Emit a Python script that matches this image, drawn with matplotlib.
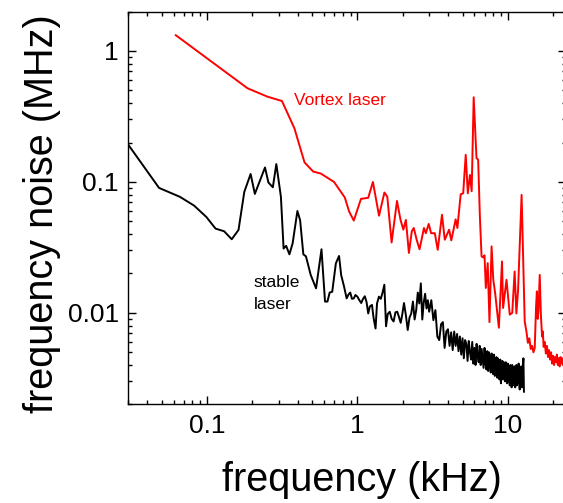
import numpy as np
import matplotlib
matplotlib.use("Agg")
import matplotlib.pyplot as plt
from matplotlib.ticker import LogLocator, NullFormatter

plt.rcParams["font.family"] = ["Liberation Sans", "DejaVu Sans"]

# ── data (frequency in kHz, noise in MHz) ────────────────────────────────────
vortex_f = [0.062, 0.186, 0.252, 0.315, 0.381, 0.445, 0.508, 0.570, 0.699, 0.825,
            0.881, 0.946, 1.056, 1.180, 1.268, 1.392, 1.512, 1.58, 1.688, 1.833,
            1.935, 2.02, 2.10, 2.20, 2.30, 2.37, 2.48, 2.59, 2.77, 2.85,
            2.98, 3.09, 3.27, 3.42, 3.65, 3.81, 4.07, 4.21, 4.50, 4.62,
            4.86, 5.05, 5.25, 5.42, 5.60, 5.75, 5.93, 6.19, 6.35, 6.52,
            6.69, 6.85, 7.00, 7.14, 7.35, 7.55, 7.80, 8.00, 8.24, 8.72,
            9.15, 9.30, 9.80, 10.3, 10.7, 11.1, 11.4, 11.7, 12.35, 12.95,
            13.3, 13.6, 13.9, 14.2, 14.5, 14.8, 15.1, 15.4, 15.6, 15.8,
            16.0, 16.3, 16.6, 16.9, 17.1, 17.3, 17.6, 17.9, 18.2, 18.5,
            18.8, 19.1, 19.4, 19.7, 20.0, 20.3, 20.6, 20.9, 21.2, 21.5,
            21.8, 22.1, 22.4, 22.7, 23.0, 23.3, 23.6, 24.0]
vortex_n = [1.32, 0.519, 0.448, 0.415, 0.257, 0.141, 0.120, 0.116, 0.100, 0.076,
            0.0594, 0.0507, 0.0742, 0.0757, 0.100, 0.0552, 0.0830, 0.077, 0.0345, 0.0716,
            0.0513, 0.0432, 0.0513, 0.0287, 0.0420, 0.0445, 0.036, 0.0306, 0.0445, 0.0406,
            0.0478, 0.0406, 0.0406, 0.0303, 0.0561, 0.0362, 0.0432, 0.0358, 0.0518, 0.0445,
            0.0805, 0.082, 0.161, 0.0819, 0.113, 0.085, 0.443, 0.152, 0.148, 0.0544,
            0.0270, 0.0265, 0.0275, 0.0155, 0.024, 0.0085, 0.0322, 0.018, 0.0141, 0.0077,
            0.0247, 0.0109, 0.0179, 0.0097, 0.0100, 0.0207, 0.0099, 0.0150, 0.0796, 0.0086,
            0.0072, 0.0059, 0.0064, 0.0053, 0.0056, 0.0050, 0.0054, 0.0110, 0.0146, 0.0090,
            0.0105, 0.0195, 0.0095, 0.0066, 0.0072, 0.0055, 0.0060, 0.0049, 0.0056, 0.0046,
            0.0052, 0.0044, 0.0050, 0.0041, 0.0047, 0.0040, 0.0046, 0.0042, 0.0048, 0.0040,
            0.0045, 0.0039, 0.0046, 0.0041, 0.0045, 0.0040, 0.0044, 0.0041]

stable_f = [0.030, 0.048, 0.066, 0.082, 0.099, 0.114, 0.130, 0.146, 0.162, 0.177,
            0.195, 0.208, 0.243, 0.256, 0.274, 0.289, 0.310, 0.323, 0.336, 0.353,
            0.371, 0.399, 0.416, 0.437, 0.455, 0.489, 0.531, 0.577, 0.609, 0.632,
            0.654, 0.680, 0.719, 0.755, 0.780, 0.815, 0.848, 0.872, 0.896, 0.920,
            0.946, 0.970,
            1.00, 1.03, 1.06, 1.09, 1.12, 1.15, 1.18, 1.21, 1.25, 1.28,
            1.32, 1.35, 1.39, 1.43, 1.47, 1.51, 1.55, 1.59, 1.64, 1.69,
            1.74, 1.79, 1.84, 1.89, 1.94, 1.99, 2.04, 2.10, 2.16, 2.22,
            2.28, 2.34, 2.40, 2.46, 2.52, 2.58, 2.64, 2.70, 2.76, 2.82,
            2.88, 2.94, 3.00,
            3.1, 3.2, 3.3, 3.4, 3.5, 3.6, 3.7, 3.8, 3.9, 4.0,
            4.1, 4.2, 4.3, 4.4, 4.5, 4.6, 4.7, 4.8, 4.9, 5.0,
            5.1, 5.2, 5.3, 5.4, 5.5, 5.6, 5.7, 5.8, 5.9, 6.0,
            6.1, 6.2, 6.3, 6.4, 6.5, 6.6, 6.7, 6.8, 6.9, 7.0,
            7.1, 7.2, 7.3, 7.4, 7.5, 7.6, 7.7, 7.8, 7.9, 8.0,
            8.1, 8.2, 8.3, 8.4, 8.5, 8.6, 8.7, 8.8, 8.9, 9.0,
            9.1, 9.2, 9.3, 9.4, 9.5, 9.6, 9.7, 9.8, 9.9, 10.0,
            10.1, 10.2, 10.3, 10.4, 10.5, 10.6, 10.7, 10.8, 10.9, 11.0,
            11.1, 11.2, 11.3, 11.4, 11.5, 11.6, 11.7, 11.8, 11.9, 12.0,
            12.1, 12.2, 12.3, 12.4, 12.5, 12.6, 12.7, 12.8]
stable_n = [0.192, 0.090, 0.077, 0.066, 0.054, 0.044, 0.042, 0.0365, 0.043, 0.084,
            0.115, 0.081, 0.129, 0.099, 0.091, 0.137, 0.077, 0.031, 0.0325, 0.028,
            0.034, 0.060, 0.051, 0.028, 0.027, 0.0195, 0.0154, 0.0306, 0.0122, 0.0122,
            0.0143, 0.0145, 0.0239, 0.0272, 0.0194, 0.0159, 0.0129, 0.0138, 0.0143, 0.0128,
            0.0129, 0.0137,
            0.0133, 0.0125, 0.0119, 0.0128, 0.0134, 0.0121, 0.0099, 0.0112, 0.0115, 0.0092,
            0.0076, 0.0118, 0.0133, 0.0128, 0.0143, 0.0164, 0.0079, 0.0098, 0.0102, 0.0090,
            0.0086, 0.0101, 0.0102, 0.0093, 0.0084, 0.0098, 0.0119, 0.0096, 0.0074, 0.0092,
            0.0099, 0.0122, 0.0089, 0.0105, 0.0143, 0.0118, 0.0168, 0.0089, 0.0120, 0.0140,
            0.0108, 0.0125, 0.0102,
            0.0125, 0.0088, 0.0105, 0.0066, 0.0062, 0.0082, 0.0085, 0.0054, 0.0072, 0.0075,
            0.0056, 0.0071, 0.0052, 0.0072, 0.0056, 0.0069, 0.0051, 0.0066, 0.0048, 0.0064,
            0.0045, 0.0062, 0.0058, 0.0043, 0.0061, 0.0050, 0.0044, 0.0060, 0.0041, 0.0054,
            0.0040, 0.0058, 0.0047, 0.0042, 0.0056, 0.0040, 0.0053, 0.0045, 0.0038, 0.0054,
            0.0042, 0.0037, 0.0051, 0.0036, 0.0050, 0.0041, 0.0035, 0.0049, 0.0039, 0.0034,
            0.0048, 0.0033, 0.0044, 0.0046, 0.0032, 0.0045, 0.0036, 0.0031, 0.0044, 0.0029,
            0.0041, 0.0043, 0.0031, 0.0042, 0.0033, 0.0030, 0.0042, 0.0032, 0.0029, 0.0041,
            0.0030, 0.0039, 0.0028, 0.0040, 0.0031, 0.0027, 0.0040, 0.0030, 0.0038, 0.0028,
            0.0039, 0.0027, 0.0037, 0.0040, 0.0028, 0.0038, 0.0029, 0.0041, 0.0030, 0.0026,
            0.0038, 0.0029, 0.0039, 0.0027, 0.0036, 0.0040, 0.0045, 0.0025]

x_ticks = [0.1, 1, 10]
x_ticklabels = ["0.1", "1", "10"]
y_ticks = [0.01, 0.1, 1]
y_ticklabels = ["0.01", "0.1", "1"]


def main():
    fig = plt.figure(figsize=(5.63, 5.03), dpi=100)
    ax = fig.add_axes([0.228, 0.196, 0.777, 0.781])

    ax.plot(stable_f, stable_n, color="black", lw=1.4)
    ax.plot(vortex_f, vortex_n, color="#ff0000", lw=1.4)

    ax.set_xscale("log")
    ax.set_yscale("log")
    ax.set_xlim(0.03, 24.3)
    ax.set_ylim(0.002, 2.0)

    ax.set_xticks(x_ticks)
    ax.set_xticklabels(x_ticklabels)
    ax.set_yticks(y_ticks)
    ax.set_yticklabels(y_ticklabels)
    for axis in (ax.xaxis, ax.yaxis):
        axis.set_minor_locator(LogLocator(base=10, subs=range(2, 10), numticks=20))
        axis.set_minor_formatter(NullFormatter())

    ax.tick_params(which="both", direction="in", top=True, right=True, width=1.0)
    ax.tick_params(which="major", length=5.5, labelsize=19)
    ax.tick_params(which="minor", length=3)
    ax.tick_params(axis="x", which="major", pad=7)
    ax.tick_params(axis="y", which="major", pad=7)
    for sp in ax.spines.values():
        sp.set_linewidth(1.0)

    ax.set_xlabel("frequency (kHz)", fontsize=28.5)
    ax.set_ylabel("frequency noise (MHz)", fontsize=28.5)
    ax.xaxis.set_label_coords(0.533, -0.145)
    ax.yaxis.set_label_coords(-0.155, 0.485)

    ax.text(0.377, 0.385, "Vortex laser", color="#ff0000", fontsize=12.5,
            ha="left", va="baseline")
    ax.text(0.204, 0.0157, "stable", color="black", fontsize=12.5,
            ha="left", va="baseline")
    ax.text(0.204, 0.01067, "laser", color="black", fontsize=12.5,
            ha="left", va="baseline")

    fig.savefig("out.png", dpi=100)


if __name__ == "__main__":
    main()
